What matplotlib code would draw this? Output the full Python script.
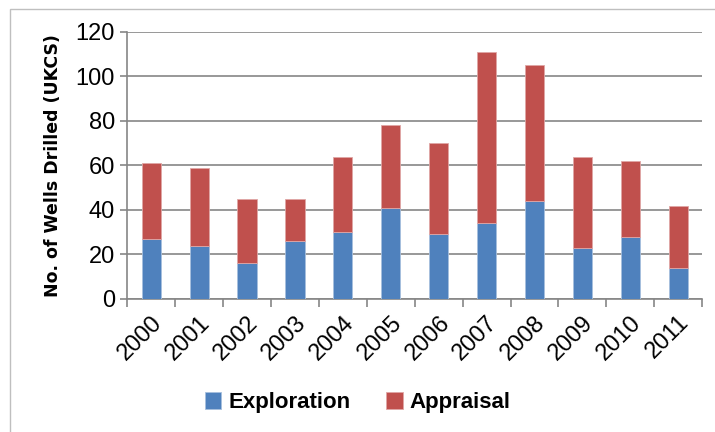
import matplotlib
matplotlib.use('Agg')
import matplotlib.pyplot as plt
import numpy as np
from matplotlib.patches import Rectangle

years = ['2000', '2001', '2002', '2003', '2004', '2005',
         '2006', '2007', '2008', '2009', '2010', '2011']
exploration = [27, 24, 16, 26, 30, 41, 29, 34, 44, 23, 28, 14]
appraisal = [34, 35, 29, 19, 34, 37, 41, 77, 61, 41, 34, 28]

plt.rcParams['font.family'] = ['Liberation Sans', 'DejaVu Sans']

blue = '#4f81bd'
red = '#c0504d'
grey = '#868686'

fig = plt.figure(figsize=(7.15, 4.32), dpi=100)
ax = fig.add_axes([0.178, 0.308, 0.804, 0.618])

x = np.arange(len(years))
ax.bar(x, exploration, width=0.4, color=blue, edgecolor='#a7c0de', linewidth=0.6,
       label='Exploration', zorder=3)
ax.bar(x, appraisal, width=0.4, bottom=exploration, color=red, edgecolor='#e0a6a5',
       linewidth=0.6, label='Appraisal', zorder=3)

ax.set_xlim(-0.5, len(years) - 0.5)
ax.set_ylim(0, 120)
ax.set_yticks(range(0, 121, 20))
ax.yaxis.grid(True, color=grey, linewidth=1.2, zorder=0)
ax.set_axisbelow(True)

ax.set_xticks(x)
ax.set_xticklabels(years, rotation=45, ha='right', rotation_mode='anchor', fontsize=17)
ax.tick_params(axis='x', length=0, pad=9)
ax.set_xticks(np.arange(-0.5, len(years), 1), minor=True)
ax.tick_params(axis='x', which='minor', length=6, color=grey, width=1.2)
ax.tick_params(axis='y', labelsize=17, length=5, color=grey, width=1.2, pad=4)

for s in ['top', 'right']:
    ax.spines[s].set_visible(False)
for s in ['left', 'bottom']:
    ax.spines[s].set_color(grey)
    ax.spines[s].set_linewidth(1.2)

ax.set_ylabel('No. of Wells Drilled (UKCS)', fontsize=12.5, fontweight='bold',
              family=['DejaVu Sans'], labelpad=10)

fig.legend(loc='center', bbox_to_anchor=(0.5, 0.068), ncol=2, frameon=False,
           handlelength=0.75, handleheight=0.75, columnspacing=1.6,
           handletextpad=0.3, prop={'weight': 'bold', 'size': 16})

# chart frame
fig.patches.append(Rectangle((0.014, -0.1), 1.2, 1.08, transform=fig.transFigure,
                             fill=False, edgecolor='#bfbfbf', linewidth=1))

fig.savefig('out.png', dpi=100)
